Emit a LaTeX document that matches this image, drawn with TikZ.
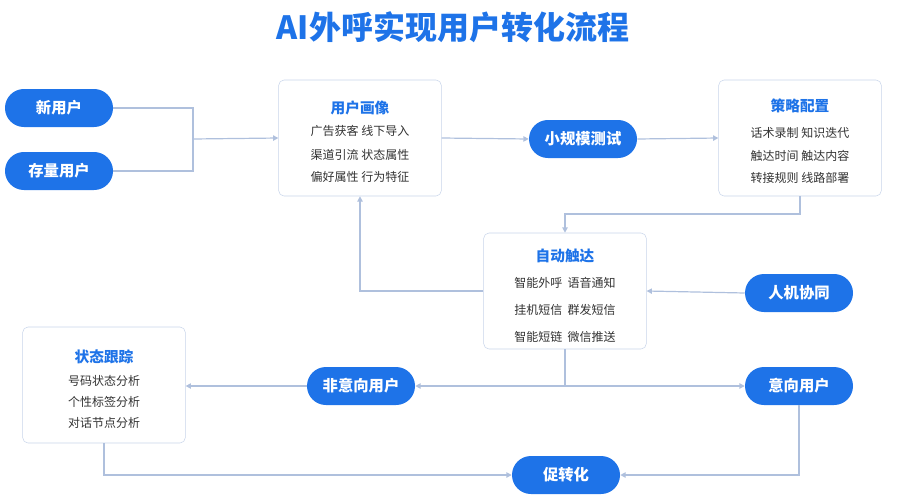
\documentclass[tikz,border=0pt]{standalone}
\usepackage{fontspec}
\setmainfont{Noto Sans CJK SC}
\usetikzlibrary{arrows.meta}
\definecolor{pillblue}{HTML}{1E73E8}
\definecolor{linegray}{HTML}{AFC0DD}
\definecolor{boxline}{HTML}{C9D5EA}
\definecolor{textgray}{HTML}{333333}
\begin{document}
\begin{tikzpicture}[x=0.75pt, y=-0.75pt,
				   pill/.style={rounded corners=14.2pt, fill=pillblue, text=white, minimum width=81pt, minimum height=28.5pt, font=\bfseries\fontsize{11.5}{12}\selectfont},
				   card/.style={draw=boxline, rounded corners=4pt, fill=white, minimum width=122pt, minimum height=87pt},
				   cardtitle/.style={text=pillblue, font=\bfseries\fontsize{11}{12}\selectfont},
				   cardtext/.style={text=textgray, font=\fontsize{9}{10}\selectfont},
				   link/.style={draw=linegray, line width=0.9pt},
				   arr/.style={link, -{Triangle[length=4pt,width=4pt]}}]
\useasboundingbox (0,0) rectangle (906,500);
\node[text=pillblue, font=\bfseries\fontsize{24}{26}\selectfont] (title) at (453,27) {AI外呼实现用户转化流程};
% left inputs
\node[pill] (new) at (59,108) {新用户};
\node[pill] (old) at (59,171) {存量用户};
% cards
\node[card] (profile) at (360,138) {};
\node[cardtitle] (profileT) at (360,108) {用户画像};
\node[cardtext] (profile1) at (360,131) {广告获客 线下导入};
\node[cardtext] (profile2) at (360,155) {渠道引流 状态属性};
\node[cardtext] (profile3) at (360,177) {偏好属性 行为特征};
\node[pill] (test) at (583,139) {小规模测试};
\node[card] (plan) at (800,138) {};
\node[cardtitle] (planT) at (800,106) {策略配置};
\node[cardtext] (plan1) at (800,133) {话术录制 知识迭代};
\node[cardtext] (plan2) at (800,156) {触达时间 触达内容};
\node[cardtext] (plan3) at (800,178) {转接规则 线路部署};
\node[card] (reach) at (565,291) {};
\node[cardtitle] (reachT) at (565,256) {自动触达};
\node[cardtext] (reach1) at (565,283) {智能外呼\ \ 语音通知};
\node[cardtext] (reach2) at (565,310) {挂机短信\ \ 群发短信};
\node[cardtext] (reach3) at (565,337) {智能短链\ \ 微信推送};
\node[pill] (human) at (799,293) {人机协同};
\node[pill] (nonint) at (361,386) {非意向用户};
\node[pill] (intent) at (799,386) {意向用户};
\node[card] (track) at (104,385) {};
\node[cardtitle] (trackT) at (104,357) {状态跟踪};
\node[cardtext] (track1) at (104,381) {号码状态分析};
\node[cardtext] (track2) at (104,402) {个性标签分析};
\node[cardtext] (track3) at (104,423) {对话节点分析};
\node[pill] (convert) at (566,475) {促转化};
% connectors
\coordinate (join) at (193,139);
\coordinate (split) at (565,386);
\draw[link] (new.east) -| (join) |- (old.east);
\draw[arr] (join) -- (profile.west);
\draw[arr] (profile.east) -- (test.west);
\draw[arr] (test.east) -- (plan.west);
\draw[arr] (plan.south) |- (565,214) -- (reach.north);
\draw[arr] (reach.west) -| (profile.south);
\draw[arr] (human.west) -- (reach.east);
\draw[link] (reach.south) -- (split);
\draw[arr] (split) -- (nonint.east);
\draw[arr] (split) -- (intent.west);
\draw[arr] (nonint.west) -- (track.east |- nonint);
\draw[arr] (intent.south) |- (convert.east);
\draw[arr] (track.south) |- (convert.west);
\end{tikzpicture}
\end{document}
